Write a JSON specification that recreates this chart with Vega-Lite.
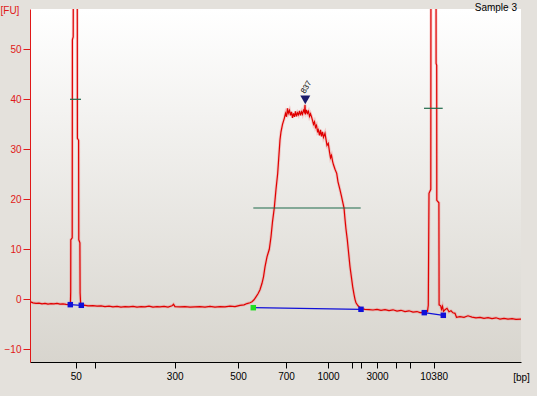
{
  "$schema": "https://vega.github.io/schema/vega-lite/v6.json",
  "width": 491,
  "height": 353,
  "autosize": {"type": "none"},
  "padding": {"left": 30, "top": 9, "right": 16, "bottom": 34},
  "background": "#e4e1dc",
  "config": {
    "view": {
      "stroke": null,
      "fill": {
        "gradient": "linear",
        "x1": 0, "y1": 0, "x2": 0, "y2": 1,
        "stops": [
          {"offset": 0, "color": "#ffffff"},
          {"offset": 1, "color": "#d8d5ce"}
        ]
      }
    },
    "axis": {"grid": false},
    "font": "Liberation Sans"
  },
  "title": {
    "text": "Sample 3",
    "anchor": "end",
    "frame": "group",
    "font": "Liberation Sans",
    "fontSize": 10,
    "fontWeight": "normal",
    "color": "#000000",
    "offset": -8,
    "dx": -4,
    "zindex": 1
  },
  "datasets": {
    "trace": [
      {"t": 0, "v": -0.45}, {"t": 3, "v": -0.7}, {"t": 6, "v": -0.8}, {"t": 9, "v": -0.75},
      {"t": 12, "v": -0.9}, {"t": 15, "v": -0.8}, {"t": 18, "v": -0.95}, {"t": 21, "v": -0.85},
      {"t": 24, "v": -0.9}, {"t": 27, "v": -0.8}, {"t": 30, "v": -0.95}, {"t": 33, "v": -0.9},
      {"t": 36, "v": -1.0}, {"t": 39, "v": -1.05}, {"t": 40.4, "v": -1.0}, {"t": 40.7, "v": 1.5},
      {"t": 40.8, "v": 11.9}, {"t": 42.2, "v": 12.3}, {"t": 42.4, "v": 51.9}, {"t": 43.2, "v": 52.5},
      {"t": 43.5, "v": 80}, {"t": 47.0, "v": 80}, {"t": 47.3, "v": 55}, {"t": 47.4, "v": 32.2},
      {"t": 48.6, "v": 31.8}, {"t": 48.8, "v": 11.9}, {"t": 49.9, "v": 11.3}, {"t": 50.1, "v": 1.3},
      {"t": 50.7, "v": -1.1}, {"t": 51.3, "v": -1.2}, {"t": 54, "v": -1.15}, {"t": 58, "v": -1.3},
      {"t": 63, "v": -1.27}, {"t": 67, "v": -1.35}, {"t": 71, "v": -1.3}, {"t": 75, "v": -1.45},
      {"t": 79, "v": -1.35}, {"t": 83, "v": -1.5}, {"t": 87, "v": -1.4}, {"t": 91, "v": -1.55},
      {"t": 95, "v": -1.45}, {"t": 99, "v": -1.5}, {"t": 103, "v": -1.4}, {"t": 107, "v": -1.55},
      {"t": 111, "v": -1.45}, {"t": 115, "v": -1.5}, {"t": 119, "v": -1.35}, {"t": 123, "v": -1.55},
      {"t": 127, "v": -1.45}, {"t": 130, "v": -1.5}, {"t": 134, "v": -1.4}, {"t": 138, "v": -1.55},
      {"t": 142, "v": -1.3}, {"t": 143.5, "v": -1.0}, {"t": 145, "v": -1.45}, {"t": 150, "v": -1.5},
      {"t": 155, "v": -1.45}, {"t": 160, "v": -1.55}, {"t": 165, "v": -1.5}, {"t": 170, "v": -1.45},
      {"t": 175, "v": -1.55}, {"t": 180, "v": -1.4}, {"t": 185, "v": -1.55}, {"t": 190, "v": -1.45},
      {"t": 195, "v": -1.5}, {"t": 200, "v": -1.35}, {"t": 205, "v": -1.45}, {"t": 210, "v": -1.2},
      {"t": 214, "v": -1.1}, {"t": 217, "v": -0.85}, {"t": 220, "v": -0.7}, {"t": 222, "v": -0.47},
      {"t": 224, "v": -0.1}, {"t": 226, "v": 0.5}, {"t": 228, "v": 1.1}, {"t": 230, "v": 1.9},
      {"t": 232, "v": 3.2}, {"t": 233.5, "v": 4.5}, {"t": 235, "v": 6.5}, {"t": 237, "v": 8.5},
      {"t": 239.3, "v": 10}, {"t": 241, "v": 12.5}, {"t": 242.5, "v": 15.5}, {"t": 244.3, "v": 18.3},
      {"t": 246, "v": 22}, {"t": 247.7, "v": 25.2}, {"t": 249, "v": 29}, {"t": 250, "v": 31.9},
      {"t": 251, "v": 33.5}, {"t": 252.5, "v": 35}, {"t": 254.3, "v": 36.2}, {"t": 255.5, "v": 37.2},
      {"t": 256.5, "v": 36.5}, {"t": 257.5, "v": 38.2}, {"t": 258.3, "v": 37.2}, {"t": 259.5, "v": 37.8},
      {"t": 260.5, "v": 36.8}, {"t": 261.5, "v": 37.5}, {"t": 262.5, "v": 36.3}, {"t": 263.5, "v": 37.2},
      {"t": 264.5, "v": 36.5}, {"t": 265.5, "v": 37.6}, {"t": 266.5, "v": 36.6}, {"t": 267.5, "v": 37.3},
      {"t": 268.5, "v": 36.9}, {"t": 269.5, "v": 37.7}, {"t": 270.5, "v": 36.8}, {"t": 271.5, "v": 37.5},
      {"t": 272.5, "v": 37.0}, {"t": 273.5, "v": 37.8}, {"t": 274.5, "v": 37.4}, {"t": 275, "v": 38.9},
      {"t": 275.5, "v": 37.0}, {"t": 276.5, "v": 37.9}, {"t": 277.5, "v": 37.2}, {"t": 278.5, "v": 37.6},
      {"t": 279.5, "v": 36.6}, {"t": 280.5, "v": 37.1}, {"t": 281.7, "v": 36.4}, {"t": 282.5, "v": 35.8},
      {"t": 283.5, "v": 35.0}, {"t": 284.5, "v": 35.5}, {"t": 285.5, "v": 34.4}, {"t": 286.5, "v": 34.8},
      {"t": 287.5, "v": 33.6}, {"t": 288.3, "v": 33.9}, {"t": 289.5, "v": 32.8}, {"t": 290.5, "v": 33.9},
      {"t": 291.5, "v": 32.6}, {"t": 292.5, "v": 33.5}, {"t": 293.5, "v": 32.4}, {"t": 295, "v": 33.2},
      {"t": 296, "v": 32.0}, {"t": 297, "v": 30.8}, {"t": 298.3, "v": 31.2}, {"t": 299.5, "v": 29.5},
      {"t": 300.5, "v": 28.3}, {"t": 301.5, "v": 28.8}, {"t": 302.7, "v": 27.5}, {"t": 303.5, "v": 26.9},
      {"t": 305, "v": 26.0}, {"t": 306.7, "v": 25.2}, {"t": 308, "v": 23.5}, {"t": 310, "v": 21.9},
      {"t": 311.5, "v": 20.6}, {"t": 313, "v": 19.2}, {"t": 314, "v": 18.3}, {"t": 315, "v": 16.0},
      {"t": 316, "v": 14.0}, {"t": 317.3, "v": 11.9}, {"t": 318.5, "v": 9.5}, {"t": 320, "v": 6.5},
      {"t": 321.5, "v": 4.3}, {"t": 322.7, "v": 2.5}, {"t": 324, "v": 1.0}, {"t": 325, "v": 0.0},
      {"t": 326, "v": -0.7}, {"t": 328, "v": -1.3}, {"t": 330, "v": -1.65}, {"t": 332, "v": -1.9},
      {"t": 335, "v": -2.0}, {"t": 339, "v": -2.05}, {"t": 343, "v": -2.14}, {"t": 347, "v": -2.0},
      {"t": 351, "v": -2.2}, {"t": 355, "v": -2.05}, {"t": 359, "v": -2.25}, {"t": 363, "v": -2.1},
      {"t": 367, "v": -2.35}, {"t": 371, "v": -2.2}, {"t": 375, "v": -2.45}, {"t": 379, "v": -2.3},
      {"t": 383, "v": -2.55}, {"t": 387, "v": -2.45}, {"t": 390, "v": -2.67}, {"t": 393, "v": -2.6},
      {"t": 395, "v": -2.65}, {"t": 396.5, "v": -2.5}, {"t": 397.5, "v": -2.4}, {"t": 398.3, "v": -1.2},
      {"t": 399.0, "v": 21.2}, {"t": 400.8, "v": 22.0}, {"t": 401.0, "v": 80}, {"t": 406.0, "v": 80},
      {"t": 406.1, "v": 47.2}, {"t": 406.7, "v": 46.8}, {"t": 406.8, "v": 19.8}, {"t": 408.9, "v": 19.3},
      {"t": 409.1, "v": -1.1}, {"t": 410.7, "v": -1.3}, {"t": 411.5, "v": -2.0}, {"t": 412.5, "v": -1.4},
      {"t": 413.5, "v": -2.4}, {"t": 415, "v": -2.1}, {"t": 417, "v": -1.8}, {"t": 419, "v": -2.5},
      {"t": 421, "v": -2.3}, {"t": 423, "v": -2.7}, {"t": 425, "v": -2.8}, {"t": 426.5, "v": -3.6},
      {"t": 430, "v": -3.45}, {"t": 434, "v": -3.6}, {"t": 438, "v": -3.3}, {"t": 442, "v": -3.55},
      {"t": 446, "v": -3.7}, {"t": 450, "v": -3.6}, {"t": 454, "v": -3.8}, {"t": 458, "v": -3.65},
      {"t": 462, "v": -3.85}, {"t": 466, "v": -3.7}, {"t": 470, "v": -3.95}, {"t": 474, "v": -3.8},
      {"t": 478, "v": -3.95}, {"t": 482, "v": -3.85}, {"t": 486, "v": -4.0}, {"t": 491, "v": -3.95}
    ],
    "baseline": [
      {"seg": "lower", "t": 40.3, "v": -1.07}, {"seg": "lower", "t": 51.3, "v": -1.2},
      {"seg": "sample", "t": 223.3, "v": -1.68}, {"seg": "sample", "t": 331, "v": -2.0},
      {"seg": "upper", "t": 394.3, "v": -2.67}, {"seg": "upper", "t": 413.3, "v": -3.2}
    ],
    "markers": [
      {"t": 40.3, "v": -1.07, "kind": "end"}, {"t": 51.3, "v": -1.2, "kind": "end"},
      {"t": 223.3, "v": -1.68, "kind": "start"}, {"t": 331, "v": -2.0, "kind": "end"},
      {"t": 394.3, "v": -2.67, "kind": "end"}, {"t": 413.3, "v": -3.2, "kind": "end"}
    ],
    "levels": [
      {"seg": "lower", "t": 40, "t2": 51, "v": 40.0},
      {"seg": "sample", "t": 223.3, "t2": 330.7, "v": 18.26},
      {"seg": "upper", "t": 394, "t2": 412.7, "v": 38.2}
    ],
    "peak": [{"t": 275.3, "v": 39.9, "label": "837"}]
  },
  "encoding": {
    "x": {
      "field": "t",
      "type": "quantitative",
      "scale": {"domain": [0, 491], "nice": false, "zero": false},
      "axis": {
        "zindex": 1,
        "values": [45.7, 65.2, 144.7, 208, 256, 298, 322, 331, 347, 365.5, 380, 403.6],
        "labelExpr": "datum.value == 45.7 ? '50' : datum.value == 144.7 ? '300' : datum.value == 208 ? '500' : datum.value == 256 ? '700' : datum.value == 298 ? '1000' : datum.value == 347 ? '3000' : datum.value == 403.6 ? '10380' : ''",
        "labelFont": "Liberation Sans",
        "labelFontSize": 10,
        "labelColor": "#000000",
        "labelPadding": 3,
        "labelOverlap": false,
        "labelFlush": false,
        "labelBound": false,
        "tickColor": "#000000",
        "tickSize": 6,
        "domainColor": "#000000",
        "title": "[bp]",
        "titleFont": "Liberation Sans",
        "titleFontSize": 10,
        "titleFontWeight": "normal",
        "titleColor": "#000000",
        "titleX": 491,
        "titleY": 15.5,
        "titleAlign": "center",
        "titleBaseline": "middle"
      }
    },
    "y": {
      "field": "v",
      "type": "quantitative",
      "scale": {"domain": [-12.54, 58.06], "nice": false, "zero": false},
      "axis": {
        "zindex": 1,
        "values": [-10, 0, 10, 20, 30, 40, 50],
        "labelFont": "Liberation Sans",
        "labelFontSize": 10,
        "labelColor": "#e01818",
        "labelPadding": 2,
        "tickColor": "#e01818",
        "tickSize": 7,
        "domainColor": "#e01818",
        "title": "[FU]",
        "titleFont": "Liberation Sans",
        "titleFontSize": 10,
        "titleFontWeight": "normal",
        "titleColor": "#e01818",
        "titleAngle": 0,
        "titleX": -30,
        "titleY": 1,
        "titleAlign": "left",
        "titleBaseline": "middle"
      }
    }
  },
  "layer": [
    {
      "data": {"name": "trace"},
      "mark": {"type": "line", "clip": true, "color": "#f06a6a", "strokeWidth": 3, "opacity": 0.3, "interpolate": "linear"},
      "encoding": {}
    },
    {
      "data": {"name": "trace"},
      "mark": {"type": "line", "clip": true, "color": "#e00000", "strokeWidth": 1.2, "interpolate": "linear"},
      "encoding": {}
    },
    {
      "data": {"name": "baseline"},
      "mark": {"type": "line", "color": "#1010d8", "strokeWidth": 1.2},
      "encoding": {"detail": {"field": "seg", "type": "nominal"}}
    },
    {
      "data": {"name": "levels"},
      "mark": {"type": "rule", "color": "#1f6a4a", "strokeWidth": 1.2},
      "encoding": {"x2": {"field": "t2"}}
    },
    {
      "data": {"name": "markers"},
      "mark": {"type": "point", "shape": "square", "filled": true, "size": 30, "opacity": 1},
      "encoding": {
        "color": {
          "field": "kind",
          "type": "nominal",
          "scale": {"domain": ["start", "end"], "range": ["#22dd22", "#1010d8"]},
          "legend": null
        }
      }
    },
    {
      "data": {"name": "peak"},
      "mark": {"type": "point", "shape": "triangle-down", "filled": true, "size": 100, "color": "#1c1c6c", "opacity": 1},
      "encoding": {}
    },
    {
      "data": {"name": "peak"},
      "mark": {"type": "text", "angle": -60, "dx": 11.5, "dy": -5, "align": "center", "baseline": "middle", "font": "Liberation Sans", "fontSize": 8, "color": "#000000"},
      "encoding": {"text": {"field": "label"}}
    }
  ]
}
